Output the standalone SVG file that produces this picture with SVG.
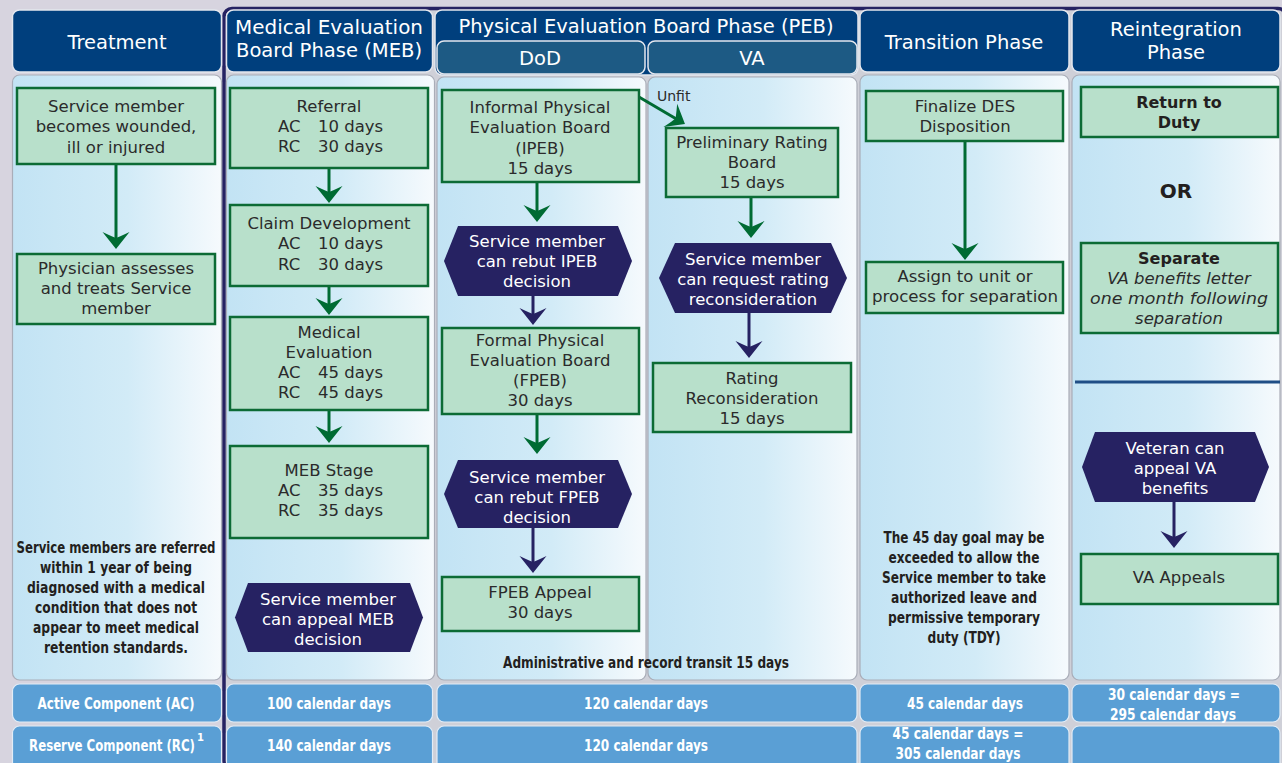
<svg xmlns="http://www.w3.org/2000/svg" width="1282" height="763" viewBox="0 0 1282 763">
<defs>
<linearGradient id="colg" x1="0" y1="0" x2="1" y2="0">
<stop offset="0" stop-color="#c2e3f4"/>
<stop offset="0.55" stop-color="#d2ebf7"/>
<stop offset="1" stop-color="#f6fafd"/>
</linearGradient>
<marker id="ag" viewBox="-12 -15 20 30" refX="0" refY="0" markerWidth="20" markerHeight="30" markerUnits="userSpaceOnUse" orient="auto">
<path d="M6,0 L-11,-13.5 Q-6,-3 -5,0 Q-6,3 -11,13.5 Z" fill="#006b33"/>
</marker>
<marker id="an" viewBox="-12 -15 20 30" refX="0" refY="0" markerWidth="20" markerHeight="30" markerUnits="userSpaceOnUse" orient="auto">
<path d="M6,0 L-11,-13.5 Q-6,-3 -5,0 Q-6,3 -11,13.5 Z" fill="#262262"/>
</marker>
</defs>
<style>
.hd{fill:#003f7d;stroke:#e4e7ee;stroke-width:1.5}
.sub{fill:#1d5a84;stroke:#e4e7ee;stroke-width:1.5}
.col{fill:url(#colg);stroke:#a9adb8;stroke-width:1.2}
.row{fill:#5a9fd5;stroke:#e2ecf6;stroke-width:1.2}
.box{fill:#b8e0cb;stroke:#0c6b35;stroke-width:2.5}
.hex{fill:#262262}
text{font-family:"DejaVu Sans","Open Sans",sans-serif}
.t{font-size:16.5px;fill:#2b2b2b;text-anchor:middle}
.ts{font-size:16.5px;fill:#2b2b2b}
.w{fill:#ffffff}
.h{font-size:19.5px;fill:#ffffff;text-anchor:middle}
.b{font-size:16px;font-weight:bold;fill:#231f20;text-anchor:middle}
.bw{font-size:16px;font-weight:bold;fill:#ffffff;text-anchor:middle}
.bb{font-size:16px;font-weight:bold;fill:#231f20;text-anchor:middle}
.it{font-style:italic}
.g{stroke:#006b33;stroke-width:3;fill:none;marker-end:url(#ag)}
.n{stroke:#262262;stroke-width:3;fill:none;marker-end:url(#an)}
</style>
<rect x="0" y="0" width="1282" height="763" fill="#d7d4df"/>
<rect x="224" y="8.5" width="1062" height="760" rx="8" fill="#cfd0d8" stroke="#262262" stroke-width="3.5"/>

<g id="headers">
<rect class="hd" x="12.5" y="10" width="209" height="62" rx="7"/>
<text class="h" x="117" y="49">Treatment</text>
<rect class="hd" x="226.5" y="10" width="206" height="62" rx="7"/>
<text class="h" x="329" y="34" textLength="188" lengthAdjust="spacingAndGlyphs">Medical Evaluation</text>
<text class="h" x="329" y="57" textLength="186" lengthAdjust="spacingAndGlyphs">Board Phase (MEB)</text>
<rect class="hd" x="435" y="10" width="423" height="65" rx="7"/>
<text class="h" x="646" y="33">Physical Evaluation Board Phase (PEB)</text>
<rect class="sub" x="437" y="41" width="208" height="33" rx="7"/>
<text class="h" x="540" y="65">DoD</text>
<rect class="sub" x="648" y="41" width="209" height="33" rx="7"/>
<text class="h" x="752" y="65">VA</text>
<rect class="hd" x="860" y="10" width="209" height="62" rx="7"/>
<text class="h" x="964" y="49">Transition Phase</text>
<rect class="hd" x="1072" y="10" width="208" height="62" rx="7"/>
<text class="h" x="1176" y="36">Reintegration</text>
<text class="h" x="1176" y="59">Phase</text>
</g>

<g id="columns">
<rect class="col" x="12.5" y="75" width="209" height="605" rx="7"/>
<rect class="col" x="226.5" y="75" width="208" height="605" rx="7"/>
<rect class="col" x="437" y="77" width="209" height="603" rx="7"/>
<rect class="col" x="648" y="77" width="209" height="603" rx="7"/>
<rect class="col" x="860" y="75" width="209" height="605" rx="7"/>
<rect class="col" x="1072" y="75" width="208" height="605" rx="7"/>
</g>

<g id="rows">
<rect class="row" x="12.5" y="684" width="209" height="38" rx="7"/>
<rect class="row" x="226.5" y="684" width="206" height="38" rx="7"/>
<rect class="row" x="437" y="684" width="420" height="38" rx="7"/>
<rect class="row" x="860" y="684" width="209" height="38" rx="7"/>
<rect class="row" x="1072" y="684" width="208" height="38" rx="7"/>
<rect class="row" x="12.5" y="726" width="209" height="45" rx="7"/>
<rect class="row" x="226.5" y="726" width="206" height="45" rx="7"/>
<rect class="row" x="437" y="726" width="420" height="45" rx="7"/>
<rect class="row" x="860" y="726" width="209" height="45" rx="7"/>
<rect class="row" x="1072" y="726" width="208" height="45" rx="7"/>
<text class="bw" x="116" y="709" textLength="157" lengthAdjust="spacingAndGlyphs">Active Component (AC)</text>
<text class="bw" x="0" y="0" transform="translate(112,751) scale(0.735,1)">Reserve Component (RC)</text>
<text class="bw" x="197" y="741" style="font-size:10px;text-anchor:start">1</text>
<text class="bw" x="329" y="709" textLength="124" lengthAdjust="spacingAndGlyphs">100 calendar days</text>
<text class="bw" x="329" y="751" textLength="124" lengthAdjust="spacingAndGlyphs">140 calendar days</text>
<text class="bw" x="646" y="709" textLength="124" lengthAdjust="spacingAndGlyphs">120 calendar days</text>
<text class="bw" x="646" y="751" textLength="124" lengthAdjust="spacingAndGlyphs">120 calendar days</text>
<text class="bw" x="965" y="709" textLength="116" lengthAdjust="spacingAndGlyphs">45 calendar days</text>
<text class="bw" x="958" y="739" textLength="131" lengthAdjust="spacingAndGlyphs">45 calendar days =</text>
<text class="bw" x="958" y="759" textLength="125" lengthAdjust="spacingAndGlyphs">305 calendar days</text>
<text class="bw" x="1174" y="700" textLength="132" lengthAdjust="spacingAndGlyphs">30 calendar days =</text>
<text class="bw" x="1173" y="720" textLength="126" lengthAdjust="spacingAndGlyphs">295 calendar days</text>
</g>

<g id="connectors">
<line class="g" x1="116" y1="164" x2="116" y2="243"/>
<line class="g" x1="329" y1="168" x2="329" y2="197"/>
<line class="g" x1="329" y1="286" x2="329" y2="309"/>
<line class="g" x1="329" y1="410" x2="329" y2="437"/>
<line class="g" x1="537" y1="182" x2="537" y2="216"/>
<line class="n" x1="533" y1="296" x2="533" y2="319"/>
<line class="g" x1="537" y1="414" x2="537" y2="448"/>
<line class="n" x1="533" y1="528" x2="533" y2="567"/>
<line class="g" x1="639" y1="97" x2="679.8" y2="121"/>
<line class="g" x1="751" y1="197" x2="751" y2="232"/>
<line class="n" x1="749" y1="313" x2="749" y2="352"/>
<line class="g" x1="965" y1="141" x2="965" y2="254"/>
<line class="n" x1="1174" y1="502" x2="1174" y2="542"/>
</g>

<g id="n-wounded">
<rect class="box" x="17" y="88" width="198" height="76"/>
<text class="t" x="116" y="112">Service member</text>
<text class="t" x="116" y="132">becomes wounded,</text>
<text class="t" x="116" y="153">ill or injured</text>
</g>
<g id="n-physician">
<rect class="box" x="17" y="254" width="198" height="70"/>
<text class="t" x="116" y="274">Physician assesses</text>
<text class="t" x="116" y="294">and treats Service</text>
<text class="t" x="116" y="314">member</text>
</g>
<g id="note-treatment">
<text class="b" x="116" y="553" textLength="199" lengthAdjust="spacingAndGlyphs">Service members are referred</text>
<text class="b" x="116" y="573" textLength="152" lengthAdjust="spacingAndGlyphs">within 1 year of being</text>
<text class="b" x="116" y="593" textLength="178" lengthAdjust="spacingAndGlyphs">diagnosed with a medical</text>
<text class="b" x="116" y="613" textLength="162" lengthAdjust="spacingAndGlyphs">condition that does not</text>
<text class="b" x="116" y="633" textLength="166" lengthAdjust="spacingAndGlyphs">appear to meet medical</text>
<text class="b" x="116" y="653" textLength="144" lengthAdjust="spacingAndGlyphs">retention standards.</text>
</g>

<g id="n-referral">
<rect class="box" x="230" y="88" width="198" height="80"/>
<text class="t" x="329" y="112">Referral</text>
<text class="ts" x="278" y="132">AC</text><text class="ts" x="318" y="132">10 days</text>
<text class="ts" x="278" y="152">RC</text><text class="ts" x="318" y="152">30 days</text>
</g>
<g id="n-claim">
<rect class="box" x="230" y="205" width="198" height="81"/>
<text class="t" x="329" y="229">Claim Development</text>
<text class="ts" x="278" y="249">AC</text><text class="ts" x="318" y="249">10 days</text>
<text class="ts" x="278" y="270">RC</text><text class="ts" x="318" y="270">30 days</text>
</g>
<g id="n-medeval">
<rect class="box" x="230" y="317" width="198" height="93"/>
<text class="t" x="329" y="338">Medical</text>
<text class="t" x="329" y="358">Evaluation</text>
<text class="ts" x="278" y="378">AC</text><text class="ts" x="318" y="378">45 days</text>
<text class="ts" x="278" y="398">RC</text><text class="ts" x="318" y="398">45 days</text>
</g>
<g id="n-mebstage">
<rect class="box" x="230" y="446" width="198" height="92"/>
<text class="t" x="329" y="476">MEB Stage</text>
<text class="ts" x="278" y="496">AC</text><text class="ts" x="318" y="496">35 days</text>
<text class="ts" x="278" y="516">RC</text><text class="ts" x="318" y="516">35 days</text>
</g>
<g id="n-appeal-meb">
<polygon class="hex" points="235,617.5 248,583 410,583 423,617.5 410,652 248,652"/>
<text class="t w" x="328" y="605">Service member</text>
<text class="t w" x="328" y="625">can appeal MEB</text>
<text class="t w" x="328" y="645">decision</text>
</g>

<g id="n-ipeb">
<rect class="box" x="442" y="90" width="197" height="92"/>
<text class="t" x="540" y="113">Informal Physical</text>
<text class="t" x="540" y="133">Evaluation Board</text>
<text class="t" x="540" y="154">(IPEB)</text>
<text class="t" x="540" y="174">15 days</text>
</g>
<g id="n-rebut-ipeb">
<polygon class="hex" points="444,261 458,226 618,226 632,261 618,296 458,296"/>
<text class="t w" x="537" y="247">Service member</text>
<text class="t w" x="537" y="267">can rebut IPEB</text>
<text class="t w" x="537" y="287">decision</text>
</g>
<g id="n-fpeb">
<rect class="box" x="442" y="328" width="197" height="86"/>
<text class="t" x="540" y="346">Formal Physical</text>
<text class="t" x="540" y="366">Evaluation Board</text>
<text class="t" x="540" y="386">(FPEB)</text>
<text class="t" x="540" y="406">30 days</text>
</g>
<g id="n-rebut-fpeb">
<polygon class="hex" points="444,494 458,460 618,460 632,494 618,528 458,528"/>
<text class="t w" x="537" y="483">Service member</text>
<text class="t w" x="537" y="503">can rebut FPEB</text>
<text class="t w" x="537" y="523">decision</text>
</g>
<g id="n-fpeb-appeal">
<rect class="box" x="442" y="577" width="197" height="54"/>
<text class="t" x="540" y="598">FPEB Appeal</text>
<text class="t" x="540" y="618">30 days</text>
</g>
<g id="note-admin">
<text class="b" x="646" y="668" textLength="286" lengthAdjust="spacingAndGlyphs">Administrative and record transit 15 days</text>
</g>

<g id="label-unfit">
<text x="657" y="101" style="font-size:14px;fill:#2b2b2b">Unfit</text>
</g>
<g id="n-prelim">
<rect class="box" x="666" y="128" width="172" height="69"/>
<text class="t" x="752" y="148">Preliminary Rating</text>
<text class="t" x="752" y="168">Board</text>
<text class="t" x="752" y="188">15 days</text>
</g>
<g id="n-request">
<polygon class="hex" points="659,278 675,243 831,243 847,278 831,313 675,313"/>
<text class="t w" x="753" y="265">Service member</text>
<text class="t w" x="753" y="285">can request rating</text>
<text class="t w" x="753" y="305">reconsideration</text>
</g>
<g id="n-rating-recon">
<rect class="box" x="653" y="363" width="198" height="69"/>
<text class="t" x="752" y="384">Rating</text>
<text class="t" x="752" y="404">Reconsideration</text>
<text class="t" x="752" y="424">15 days</text>
</g>

<g id="n-finalize">
<rect class="box" x="866" y="91" width="197" height="50"/>
<text class="t" x="965" y="112">Finalize DES</text>
<text class="t" x="965" y="132">Disposition</text>
</g>
<g id="n-assign">
<rect class="box" x="866" y="262" width="197" height="51"/>
<text class="t" x="965" y="282">Assign to unit or</text>
<text class="t" x="965" y="302" textLength="186" lengthAdjust="spacingAndGlyphs">process for separation</text>
</g>
<g id="note-transition">
<text class="b" x="964" y="543" textLength="161" lengthAdjust="spacingAndGlyphs">The 45 day goal may be</text>
<text class="b" x="964" y="563" textLength="151" lengthAdjust="spacingAndGlyphs">exceeded to allow the</text>
<text class="b" x="964" y="583" textLength="164" lengthAdjust="spacingAndGlyphs">Service member to take</text>
<text class="b" x="964" y="603" textLength="146" lengthAdjust="spacingAndGlyphs">authorized leave and</text>
<text class="b" x="964" y="623" textLength="152" lengthAdjust="spacingAndGlyphs">permissive temporary</text>
<text class="b" x="964" y="643" textLength="73" lengthAdjust="spacingAndGlyphs">duty (TDY)</text>
</g>

<g id="n-return">
<rect class="box" x="1081" y="87" width="197" height="50"/>
<text class="bb" x="1179" y="108">Return to</text>
<text class="bb" x="1179" y="128">Duty</text>
</g>
<g id="label-or">
<text class="bb" x="1176" y="198" style="font-size:20px">OR</text>
</g>
<g id="n-separate">
<rect class="box" x="1081" y="243" width="197" height="90"/>
<text class="bb" x="1179" y="264">Separate</text>
<text class="t it" x="1179" y="284">VA benefits letter</text>
<text class="t it" x="1179" y="304" textLength="178" lengthAdjust="spacingAndGlyphs">one month following</text>
<text class="t it" x="1179" y="324">separation</text>
</g>
<line x1="1075" y1="382" x2="1280" y2="382" stroke="#1f4e86" stroke-width="3"/>
<g id="n-veteran">
<polygon class="hex" points="1082,467 1095,432 1255,432 1269,467 1255,502 1095,502"/>
<text class="t w" x="1175" y="454">Veteran can</text>
<text class="t w" x="1175" y="474">appeal VA</text>
<text class="t w" x="1175" y="494">benefits</text>
</g>
<g id="n-va-appeals">
<rect class="box" x="1081" y="554" width="197" height="50"/>
<text class="t" x="1179" y="583">VA Appeals</text>
</g>
</svg>
